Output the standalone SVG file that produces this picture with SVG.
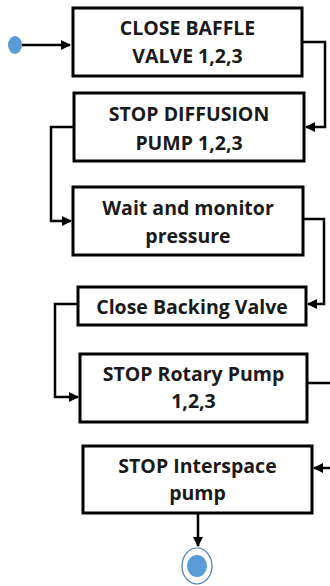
<svg xmlns="http://www.w3.org/2000/svg" width="330" height="586" viewBox="0 0 330 586">
<defs>
<style>
.box{fill:#fff;stroke:#000;stroke-width:3}
.t{font-family:"Open Sans","Liberation Sans",sans-serif;font-weight:bold;font-size:19.5px;fill:#1a1a1a;text-anchor:middle}
.c{fill:none;stroke:#000;stroke-width:2.5}
</style>
<marker id="ah" viewBox="0 0 10 10" refX="9" refY="5" markerWidth="4" markerHeight="4" orient="auto" markerUnits="strokeWidth">
<path d="M0,0 L10,5 L0,10 z" fill="#000"/>
</marker>
</defs>
<g id="start"><ellipse cx="15" cy="45" rx="7" ry="9" fill="#5b9bd5"/></g>
<g id="n1"><rect class="box" x="73" y="8" width="229" height="68"/><text class="t" x="187.5" y="35">CLOSE BAFFLE</text><text class="t" x="187.5" y="63">VALVE 1,2,3</text></g>
<g id="n2"><rect class="box" x="74" y="93" width="230" height="68"/><text class="t" x="189" y="121">STOP DIFFUSION</text><text class="t" x="189" y="150">PUMP 1,2,3</text></g>
<g id="n3"><rect class="box" x="73" y="187" width="230" height="68"/><text class="t" x="188" y="215">Wait and monitor</text><text class="t" x="188" y="243">pressure</text></g>
<g id="n4"><rect class="box" x="78" y="287" width="228" height="38"/><text class="t" x="192" y="314">Close Backing Valve</text></g>
<g id="n5"><rect class="box" x="80" y="354" width="227" height="68"/><text class="t" x="193.5" y="381">STOP Rotary Pump</text><text class="t" x="193.5" y="408">1,2,3</text></g>
<g id="n6"><rect class="box" x="83" y="446" width="229" height="67"/><text class="t" x="197.5" y="473">STOP Interspace</text><text class="t" x="197.5" y="500">pump</text></g>
<g id="end"><ellipse cx="197" cy="566" rx="15" ry="18" fill="#fff" stroke="#4a7eb0" stroke-width="1.2"/><ellipse cx="197" cy="566" rx="10" ry="11" fill="#5b9bd5"/></g>
<g id="connectors">
<path class="c" d="M22,45 H70" marker-end="url(#ah)"/>
<path class="c" d="M302,42 H325 V127 H306" marker-end="url(#ah)"/>
<path class="c" d="M74,127 H51 V221 H71" marker-end="url(#ah)"/>
<path class="c" d="M303,219 H324 V304 H308" marker-end="url(#ah)"/>
<path class="c" d="M78,304 H55 V397 H78" marker-end="url(#ah)"/>
<path class="c" d="M307,383 H334 V468 H314" marker-end="url(#ah)"/>
<path class="c" d="M198,513 V546" marker-end="url(#ah)"/>
</g>
</svg>
